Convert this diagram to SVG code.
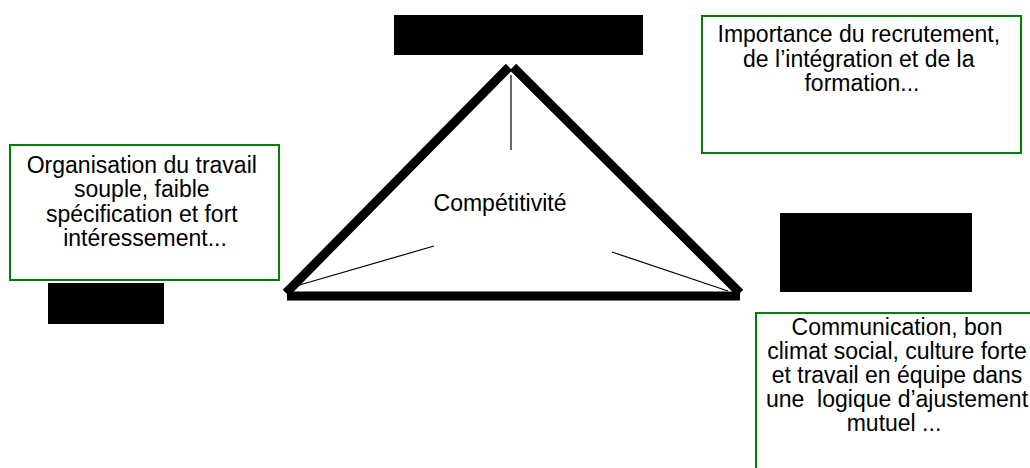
<svg xmlns="http://www.w3.org/2000/svg" width="1030" height="468" viewBox="0 0 1030 468">
  <style>
    .box { fill: #ffffff; stroke: #008000; stroke-width: 2; }
    .mask { fill: #000000; }
    .txt { font-family: "Liberation Sans", Arial, sans-serif; font-size: 23px; fill: #000000; text-anchor: middle; }
    .edge { stroke: #000000; stroke-width: 9; stroke-linecap: butt; fill: none; }
    .link { stroke: #000000; stroke-width: 1.2; fill: none; }
  </style>
  <rect width="1030" height="468" fill="#ffffff"/>

  <!-- thick triangle -->
  <g id="triangle">
    <line class="edge" x1="509" y1="67" x2="286" y2="293"/>
    <line class="edge" x1="513" y1="67" x2="740" y2="293"/>
    <line class="edge" x1="287" y1="296" x2="740" y2="296"/>
    <text class="txt" x="500" y="211">Compétitivité</text>
  </g>

  <!-- thin links from the corners toward the centre -->
  <g id="connectors">
    <line class="link" x1="511" y1="75" x2="511" y2="150"/>
    <line class="link" x1="296" y1="286" x2="434" y2="246"/>
    <line class="link" x1="612" y1="252" x2="728" y2="291"/>
  </g>

  <g id="label-top">
    <rect class="mask" x="394" y="15" width="249" height="40"/>
  </g>
  <g id="label-left">
    <rect class="mask" x="48" y="283" width="116" height="41"/>
  </g>
  <g id="label-right">
    <rect class="mask" x="780" y="213" width="192" height="79"/>
  </g>

  <g id="box-organisation">
    <rect class="box" x="10" y="145" width="269" height="135"/>
    <text class="txt">
      <tspan x="145" y="173">Organisation du travail</tspan>
      <tspan x="145" y="197">souple, faible</tspan>
      <tspan x="145" y="222">spécification et fort</tspan>
      <tspan x="145" y="246">intéressement...</tspan>
    </text>
  </g>

  <g id="box-recrutement">
    <rect class="box" x="702" y="16" width="319" height="137"/>
    <text class="txt">
      <tspan x="862" y="42">Importance du recrutement,</tspan>
      <tspan x="862" y="67">de l’intégration et de la</tspan>
      <tspan x="862" y="91">formation...</tspan>
    </text>
  </g>

  <g id="box-communication">
    <rect class="box" x="756" y="313" width="285" height="170"/>
    <text class="txt" xml:space="preserve"><tspan x="897" y="335">Communication, bon</tspan><tspan x="897" y="359">climat social, culture forte</tspan><tspan x="897" y="383">et travail en équipe dans</tspan><tspan x="897" y="407">une  logique d’ajustement</tspan><tspan x="894" y="431">mutuel ...</tspan></text>
  </g>
</svg>
